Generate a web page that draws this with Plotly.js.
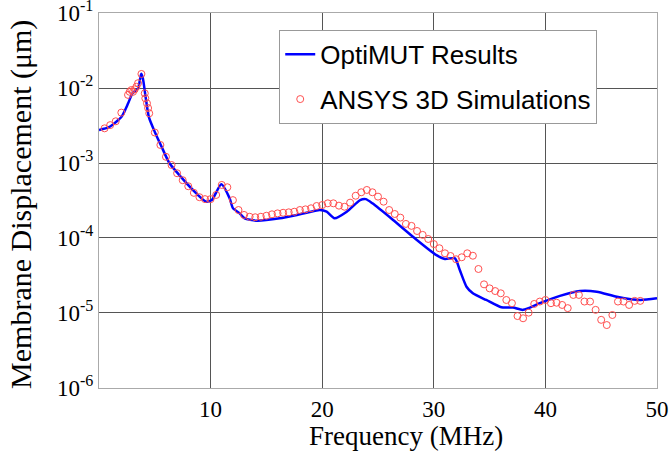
<!DOCTYPE html>
<html>
<head>
<meta charset="utf-8">
<script src="https://cdn.plot.ly/plotly-3.0.1.min.js"></script>
<style>html,body{margin:0;padding:0;background:#fff;}#chart{width:670px;height:456px;}</style>
</head>
<body>
<div id="chart"></div>
<script>
// OptiMUT Results (blue line)
const optiFreq = [0.0, 0.9, 2.0, 2.6, 3.0, 3.5, 3.78, 3.93, 4.17, 4.47, 5.0, 5.6, 6.3, 7.2, 8.4, 9.6, 10.1, 10.96, 11.7, 12.0, 12.6, 13.05, 14.1, 16.2, 18.0, 19.8, 20.4, 21.1, 22.2, 23.4, 23.9, 24.5, 26.35, 28.3, 30.24, 31.0, 31.9, 32.33, 32.93, 33.5, 34.7, 36.05, 37.1, 38.0, 39.5, 41.3, 43.1, 44.6, 46.4, 48.5, 50.0];
const optiDisp = [2.75e-3, 3.0e-3, 4.1e-3, 6.2e-3, 8.5e-3, 9.9e-3, 1.55e-2, 1.35e-2, 7.7e-3, 4.1e-3, 2.6e-3, 1.66e-3, 1.0e-3, 6.9e-4, 4.4e-4, 3.05e-4, 3.2e-4, 5.2e-4, 3.4e-4, 2.5e-4, 2.13e-4, 1.83e-4, 1.70e-4, 1.83e-4, 2.07e-4, 2.36e-4, 2.24e-4, 1.83e-4, 2.24e-4, 3.2e-4, 3.3e-4, 2.9e-4, 1.74e-4, 9.9e-5, 5.9e-5, 5.25e-5, 5.35e-5, 3.74e-5, 2.24e-5, 1.83e-5, 1.49e-5, 1.19e-5, 1.18e-5, 1.10e-5, 1.35e-5, 1.69e-5, 1.96e-5, 1.92e-5, 1.65e-5, 1.49e-5, 1.57e-5];

// ANSYS 3D Simulations (red open circles)
const ansysFreq = [0.5, 1.0, 1.5, 2.0, 2.6, 2.75, 2.9, 3.05, 3.2, 3.35, 3.5, 3.8, 4.1, 4.15, 4.3, 4.4, 4.5, 5.0, 5.5, 6.0, 6.5, 7.0, 7.5, 8.0, 8.5, 9.0, 9.5, 10.0, 10.5, 11.0, 11.5, 12.0, 12.5, 13.0, 13.5, 14.0, 14.5, 15.0, 15.5, 16.0, 16.5, 17.0, 17.5, 18.0, 18.5, 19.0, 19.5, 20.0, 20.5, 21.0, 21.5, 22.0, 22.5, 23.0, 23.5, 24.0, 24.5, 25.0, 25.5, 26.0, 26.5, 27.0, 27.5, 28.0, 28.5, 29.0, 29.5, 30.0, 30.5, 31.0, 31.5, 32.0, 32.5, 33.0, 33.5, 34.0, 34.5, 35.0, 35.5, 36.0, 36.5, 37.0, 37.5, 38.0, 38.5, 39.0, 39.5, 40.0, 40.5, 41.0, 41.5, 42.0, 42.5, 43.0, 43.5, 44.0, 44.5, 45.0, 45.5, 46.0, 46.5, 47.0, 47.5, 48.0, 48.5];
const ansysDisp = [2.9e-3, 3.2e-3, 3.6e-3, 4.7e-3, 8.1e-3, 8.9e-3, 9.4e-3, 8.9e-3, 9.6e-3, 1.04e-2, 1.16e-2, 1.54e-2, 8.5e-3, 7.3e-3, 6.25e-3, 5.4e-3, 4.6e-3, 2.55e-3, 1.74e-3, 1.21e-3, 9.4e-4, 7.3e-4, 5.9e-4, 4.9e-4, 4.0e-4, 3.5e-4, 3.3e-4, 3.3e-4, 3.75e-4, 5.1e-4, 4.75e-4, 3.2e-4, 2.36e-4, 2.03e-4, 1.92e-4, 1.89e-4, 1.92e-4, 1.98e-4, 2.07e-4, 2.13e-4, 2.17e-4, 2.2e-4, 2.24e-4, 2.36e-4, 2.41e-4, 2.49e-4, 2.67e-4, 2.75e-4, 2.9e-4, 2.9e-4, 2.7e-4, 2.61e-4, 2.96e-4, 3.66e-4, 4.07e-4, 4.37e-4, 4.07e-4, 3.56e-4, 3.05e-4, 2.36e-4, 2.09e-4, 1.87e-4, 1.54e-4, 1.45e-4, 1.24e-4, 1.1e-4, 9.7e-5, 8.3e-5, 7.3e-5, 6.25e-5, 5.75e-5, 5.2e-5, 5.53e-5, 6.25e-5, 5.8e-5, 3.86e-5, 2.41e-5, 2.13e-5, 1.96e-5, 1.83e-5, 1.49e-5, 1.35e-5, 9.1e-6, 8.5e-6, 1.01e-5, 1.32e-5, 1.42e-5, 1.49e-5, 1.35e-5, 1.37e-5, 1.28e-5, 1.16e-5, 1.74e-5, 1.74e-5, 1.42e-5, 1.42e-5, 1.1e-5, 8.1e-6, 6.9e-6, 9.4e-6, 1.42e-5, 1.42e-5, 1.28e-5, 1.45e-5, 1.45e-5];

const xTickVals = [10, 20, 30, 40, 50];
const xTickText = ['10', '20', '30', '40', '50'];
const yTickVals = [1e-6, 1e-5, 1e-4, 1e-3, 1e-2, 1e-1];
const yTickText = ['10<sup>-6</sup>', '10<sup>-5</sup>', '10<sup>-4</sup>', '10<sup>-3</sup>', '10<sup>-2</sup>', '10<sup>-1</sup>'];
const xTitle = 'Frequency (MHz)';
const yTitle = 'Membrane Displacement (μm)';

const serif = 'Liberation Serif, Times New Roman, serif';
const sans = 'Liberation Sans, Arial, sans-serif';

const traces = [
  {
    x: optiFreq, y: optiDisp, type: 'scatter', mode: 'lines',
    name: 'OptiMUT Results', legendgroup: 'a',
    line: {color: '#0000ff', width: 2.5, shape: 'spline', smoothing: 0.6}
  },
  {
    x: ansysFreq, y: ansysDisp, type: 'scatter', mode: 'markers',
    name: 'ANSYS 3D Simulations', legendgroup: 'b',
    marker: {symbol: 'circle-open', color: '#ff5050', size: 7, line: {width: 1, color: '#ff5050'}}
  }
];

const layout = {
  width: 670, height: 456,
  margin: {l: 99, r: 13, t: 13, b: 68},
  paper_bgcolor: '#fff', plot_bgcolor: '#fff',
  showlegend: true,
  legend: {
    x: 0.323, y: 0.955, xanchor: 'left', yanchor: 'top',
    bgcolor: '#fff', bordercolor: '#999', borderwidth: 1,
    font: {family: sans, size: 26, color: '#000'},
    itemwidth: 30, traceorder: 'grouped', tracegroupgap: 8
  },
  xaxis: {
    range: [0, 50], tickvals: xTickVals, ticktext: xTickText,
    showgrid: true, gridcolor: '#555', gridwidth: 1,
    showline: true, linecolor: '#aaa', linewidth: 1, mirror: true,
    ticks: '', zeroline: false, ticklabelstandoff: 0,
    tickfont: {family: serif, size: 23, color: '#000'}
  },
  yaxis: {
    type: 'log', range: [-6.0005, -0.9995], tickvals: yTickVals, ticktext: yTickText,
    showgrid: true, gridcolor: '#555', gridwidth: 1,
    showline: true, linecolor: '#aaa', linewidth: 1, mirror: true,
    ticks: '', zeroline: false, ticklabeloverflow: 'allow',
    tickfont: {family: serif, size: 23, color: '#000'}
  },
  annotations: [
    {text: xTitle, xref: 'paper', yref: 'paper', x: 0.5498, y: -0.127,
     xanchor: 'center', yanchor: 'middle', showarrow: false,
     font: {family: serif, size: 27, color: '#000'}},
    {text: yTitle, xref: 'paper', yref: 'paper', x: -0.1399, y: 0.4907,
     xanchor: 'center', yanchor: 'middle', showarrow: false, textangle: -90,
     font: {family: serif, size: 30, color: '#000'}}
  ]
};

Plotly.newPlot('chart', traces, layout, {displayModeBar: false, staticPlot: true});
</script>
</body>
</html>
